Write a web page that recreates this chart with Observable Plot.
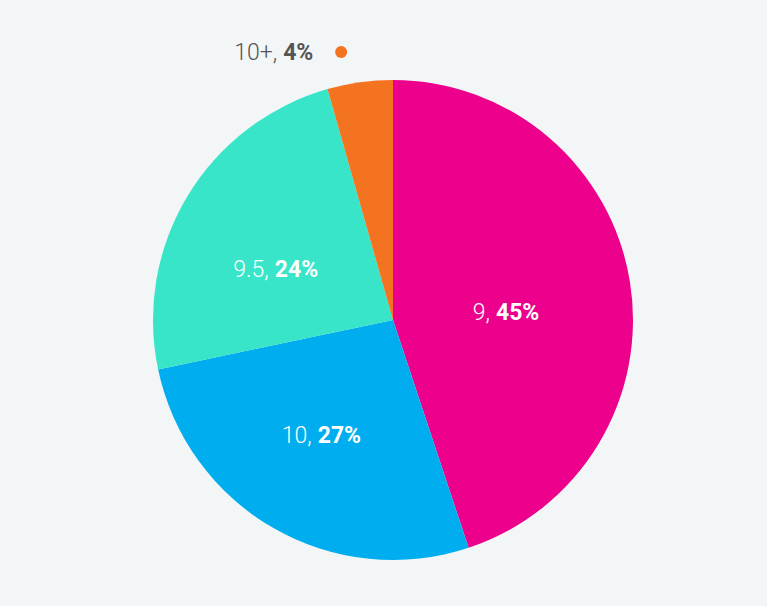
<!DOCTYPE html>
<html>
<head>
<meta charset="utf-8">
<script src="https://cdn.jsdelivr.net/npm/d3@7"></script>
<script src="https://cdn.jsdelivr.net/npm/@observablehq/plot@0.6"></script>
<style>
  html, body { margin: 0; padding: 0; background: #F3F6F7; }
  #chart svg { display: block; }
</style>
</head>
<body>
<div id="chart"></div>
<script>
// Data
const categories = ["9", "10", "9.5", "10+"];
const shares = [44.9, 26.8, 23.9, 4.4];
const labels = ["45%", "27%", "24%", "4%"];
const colors = ["#EC008C", "#00AEEF", "#38E5C8", "#F47321"];
const outside = [false, false, false, true];

const W = 767, H = 606, R = 240, CX = 393, CY = 320;

const pie = d3.pie().sort(null).value(d => d.value);
const arcs = pie(categories.map((c, i) => ({category: c, value: shares[i], label: labels[i], color: colors[i], outside: outside[i]})));

// label anchor positions in unit (radius = 1) coordinates
const inner = arcs.filter(a => !a.data.outside).map(a => {
  const m = (a.startAngle + a.endAngle) / 2;
  return {...a.data, x: 0.5 * Math.sin(m), y: 0.5 * Math.cos(m)};
});
const outer = arcs.filter(a => a.data.outside).map(a => {
  const m = (a.startAngle + a.endAngle) / 2;
  return {...a.data, x: 1.13 * Math.sin(m), y: 1.13 * Math.cos(m)};
});

const slices = (index, scales) => {
  const x0 = scales.x(0), y0 = scales.y(0);
  const r = scales.x(1) - scales.x(0);
  const arcGen = d3.arc().innerRadius(0).outerRadius(r);
  const g = d3.create("svg:g");
  g.selectAll("path").data(arcs).join("path")
    .attr("transform", `translate(${x0},${y0})`)
    .attr("d", arcGen)
    .attr("fill", d => d.data.color);
  return g.node();
};

const font = "Roboto, 'DejaVu Sans', sans-serif";
const FS = 23;

const plot = Plot.plot({
  width: W,
  height: H,
  margin: 0,
  style: {background: "#F3F6F7", fontFamily: font},
  x: {domain: [-CX / R, (W - CX) / R], range: [0, W], axis: null},
  y: {domain: [-(H - CY) / R, CY / R], range: [H, 0], axis: null},
  marks: [
    slices,
    Plot.text(inner, {
      x: "x", y: "y",
      text: d => d.category + ",",
      textAnchor: "end", fill: "white", fontSize: FS, fontWeight: 300,
      dx: -22, dy: 11, lineAnchor: "middle"
    }),
    Plot.text(inner, {
      x: "x", y: "y",
      text: "label",
      textAnchor: "start", fill: "white", fontSize: FS, fontWeight: 700,
      dx: -16, dy: 11, lineAnchor: "middle"
    }),
    Plot.dot(outer, {x: "x", y: "y", r: 6, fill: "color", dx: -15}),
    Plot.text(outer, {
      x: "x", y: "y",
      text: d => d.category + ",",
      textAnchor: "end", fill: "#555", fontSize: FS, fontWeight: 300,
      dx: -79, dy: 1, lineAnchor: "middle"
    }),
    Plot.text(outer, {
      x: "x", y: "y",
      text: "label",
      textAnchor: "start", fill: "#555", fontSize: FS, fontWeight: 700,
      dx: -73, dy: 1, lineAnchor: "middle"
    })
  ]
});

document.getElementById("chart").appendChild(plot);
</script>
</body>
</html>
